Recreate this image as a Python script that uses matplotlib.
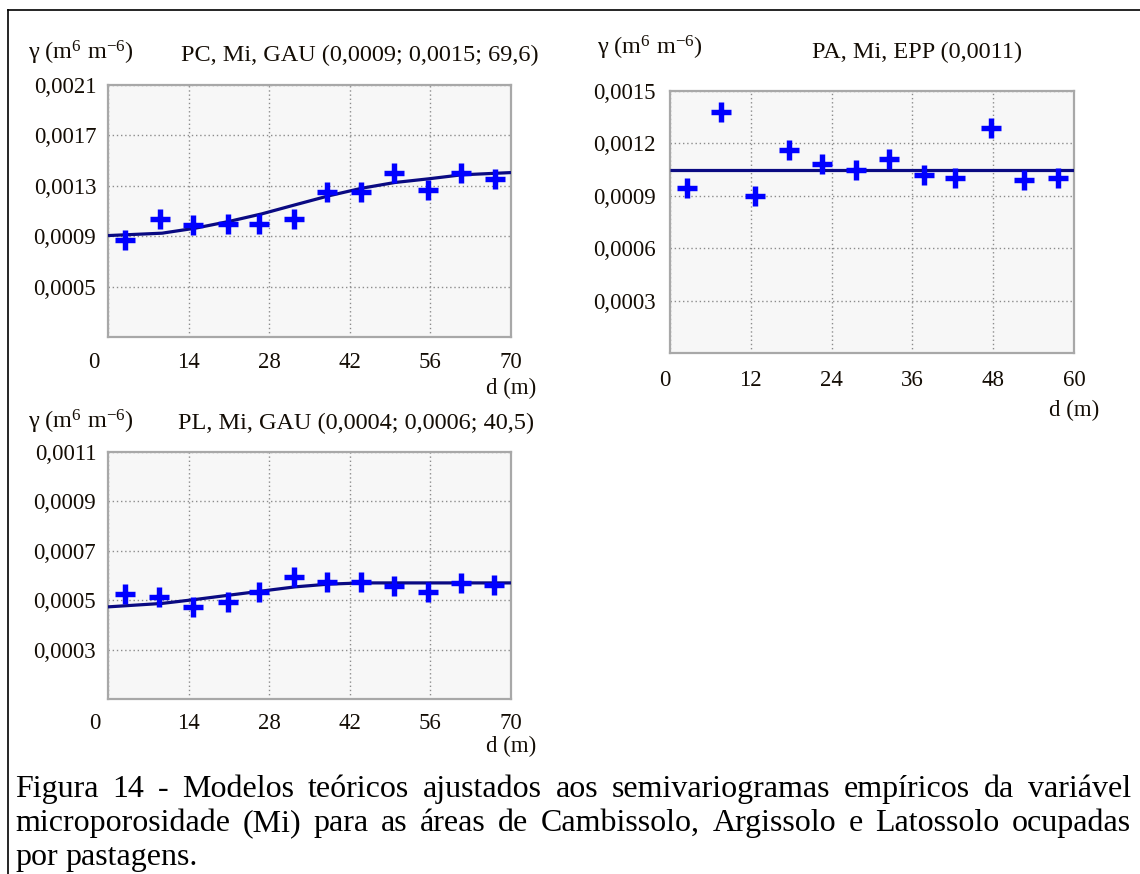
import matplotlib
matplotlib.use("Agg")
import matplotlib.pyplot as plt
from matplotlib.lines import Line2D
from matplotlib import transforms

# ---------------- data ----------------
pc_lag = [3.0, 9.07, 14.85, 20.8, 26.3, 32.3, 38.1, 43.9, 49.7, 55.5, 61.4, 67.2]
pc_gamma = [0.00087, 0.00104, 0.00099, 0.00100, 0.00100, 0.00104,
            0.00125, 0.00125, 0.00140, 0.00127, 0.00140, 0.00135]
pc_model_d = [0, 9.4, 15.2, 20.9, 26.7, 32.5, 38.3, 44.1, 49.8, 55.6, 61.4, 70]
pc_model_g = [0.000905, 0.000924, 0.000964, 0.001016, 0.001077, 0.001149,
              0.00122, 0.001281, 0.001326, 0.001355, 0.001387, 0.001405]

pa_lag = [2.54, 7.57, 12.6, 17.7, 22.5, 27.6, 32.5, 37.7, 42.4, 47.6, 52.6, 57.6]
pa_gamma = [0.000943, 0.00138, 0.00090, 0.00116, 0.00108, 0.00105,
            0.00111, 0.00102, 0.00100, 0.00129, 0.00099, 0.00100]
pa_model_d = [0, 60]
pa_model_g = [0.00105, 0.00105]

pl_lag = [3.0, 8.9, 14.85, 20.8, 26.3, 32.3, 38.1, 43.9, 49.7, 55.5, 61.4, 67.1]
pl_gamma = [0.000527, 0.000514, 0.000473, 0.000493, 0.000534, 0.000595,
            0.000574, 0.000574, 0.000557, 0.000534, 0.00057, 0.000561]
pl_model_d = [0, 9.4, 15.2, 20.9, 26.7, 32.5, 38.3, 44.1, 55.6, 70]
pl_model_g = [0.000473, 0.000487, 0.000503, 0.00052, 0.000537, 0.000554,
              0.000565, 0.00057, 0.00057, 0.00057]

pc_xticks = [0, 14, 28, 42, 56, 70]
pc_yticks = [0.0005, 0.0009, 0.0013, 0.0017, 0.0021]
pa_xticks = [0, 12, 24, 36, 48, 60]
pa_yticks = [0.0003, 0.0006, 0.0009, 0.0012, 0.0015]
pl_xticks = [0, 14, 28, 42, 56, 70]
pl_yticks = [0.0003, 0.0005, 0.0007, 0.0009, 0.0011]

titles = ["PC, Mi, GAU (0,0009; 0,0015; 69,6)",
          "PA, Mi, EPP (0,0011)",
          "PL, Mi, GAU (0,0004; 0,0006; 40,5)"]
ylab = r"γ (m$^{6}$ m$^{-6}$)"
xlab = "d (m)"
caption = [
    "Figura 14 - Modelos teóricos ajustados aos semivariogramas empíricos da variável",
    "microporosidade (Mi) para as áreas de Cambissolo, Argissolo e Latossolo ocupadas",
    "por pastagens.",
]

# ---------------- style ----------------
W, H = 1140, 874
SERIF = "Liberation Serif"
plt.rcParams["font.family"] = [SERIF, "DejaVu Serif"]
plt.rcParams["mathtext.fontset"] = "custom"
plt.rcParams["mathtext.rm"] = SERIF
plt.rcParams["mathtext.it"] = SERIF + ":italic"
TXT = "#140d05"
FS_TICK = 16.5
FS_HEAD = 17.5

fig = plt.figure(figsize=(W / 100, H / 100), dpi=100)
fig.patch.set_facecolor("white")


def fx(x):
    return x / W


def fy(y):
    return 1 - y / H


def make_axes(l, r, t, b):
    return fig.add_axes([fx(l), fy(b), (r - l) / W, (b - t) / H])


def fmt(v):
    return f"{v:.4f}".replace(".", ",")


def panel(ax, lag, gam, md, mg, xt, yt, xlim, ylim, zero_shift, xpad, ypad):
    ax.set_facecolor("#f7f7f7")
    ax.plot(md, mg, color="#0a0a82", lw=2.3, zorder=3, solid_capstyle="butt")
    ax.plot(lag, gam, linestyle="none", marker="+", ms=14.5, mew=3.9,
            color="#0000ff", zorder=4)
    ax.set_xlim(*xlim)
    ax.set_ylim(*ylim)
    ax.set_xticks(xt)
    ax.set_xticklabels([""] + [str(v) for v in xt[1:]])
    ax.set_yticks(yt)
    ax.set_yticklabels([fmt(v) for v in yt])
    ax.tick_params(length=0, labelsize=FS_TICK, labelcolor=TXT)
    ax.tick_params(axis="x", pad=xpad)
    ax.tick_params(axis="y", pad=ypad)
    ax.grid(True, color="#8c8c8c", lw=1.0, linestyle=(0, (1, 2)))
    ax.set_axisbelow(True)
    for s in ax.spines.values():
        s.set_color("#a8a8a8")
        s.set_linewidth(1.6)
    # "0" label drawn separately (shifted left as in the reference)
    off = transforms.ScaledTranslation(zero_shift / 100, -xpad / 72,
                                       fig.dpi_scale_trans)
    ax.text(0, 0, "0", transform=ax.get_xaxis_transform() + off,
            ha="center", va="top", fontsize=FS_TICK, color=TXT)


# top-left
ax1 = make_axes(108, 511, 85, 337)
panel(ax1, pc_lag, pc_gamma, pc_model_d, pc_model_g, pc_xticks, pc_yticks,
      (0, 70), (0.0001, 0.0021), -14, 11, 8.5)
# top-right
ax2 = make_axes(670, 1074, 91, 353)
panel(ax2, pa_lag, pa_gamma, pa_model_d, pa_model_g, pa_xticks, pa_yticks,
      (0, 60), (0, 0.0015), -5, 12, 10)
# bottom-left
ax3 = make_axes(108, 511, 452, 699)
panel(ax3, pl_lag, pl_gamma, pl_model_d, pl_model_g, pl_xticks, pl_yticks,
      (0, 70), (0.0001, 0.0011), -13, 10, 8.5)


def ftext(x, y, s, **kw):
    kw.setdefault("fontsize", FS_HEAD)
    kw.setdefault("color", TXT)
    return fig.text(fx(x), fy(y), s, **kw)


# panel headers
ftext(28, 53, ylab, ha="left", va="center")
ftext(360, 55, titles[0], ha="center", va="center")
ftext(597, 48, ylab, ha="left", va="center")
ftext(917, 52, titles[1], ha="center", va="center")
ftext(28, 422, ylab, ha="left", va="center")
ftext(356, 423, titles[2], ha="center", va="center")

ftext(536, 388, xlab, ha="right", va="center", fontsize=FS_TICK)
ftext(1099, 410, xlab, ha="right", va="center", fontsize=FS_TICK)
ftext(536, 746, xlab, ha="right", va="center", fontsize=FS_TICK)

# border lines (table cell)
fig.add_artist(Line2D([fx(8), fx(8)], [fy(10), fy(H)], color="black", lw=1.2))
fig.add_artist(Line2D([fx(8), fx(W)], [fy(10), fy(10)], color="black", lw=1.2))

# caption, justified
CFS = 23.0
renderer = fig.canvas.get_renderer()
x0, x1 = 15, 1131
baselines = [797, 831, 865]
for i, (line, yb) in enumerate(zip(caption, baselines)):
    words = line.split(" ")
    objs = [fig.text(0, fy(yb), w, fontsize=CFS, color="black",
                     ha="left", va="baseline") for w in words]
    widths = [o.get_window_extent(renderer).width for o in objs]
    if i < len(caption) - 1:
        gap = (x1 - x0 - sum(widths)) / (len(words) - 1)
    else:
        sp = fig.text(0, 0, "a a", fontsize=CFS)
        sp2 = fig.text(0, 0, "aa", fontsize=CFS)
        gap = (sp.get_window_extent(renderer).width
               - sp2.get_window_extent(renderer).width)
        sp.remove()
        sp2.remove()
    x = x0
    for o, w in zip(objs, widths):
        o.set_x(fx(x))
        x += w + gap

fig.savefig("out.png", dpi=100, facecolor="white")
